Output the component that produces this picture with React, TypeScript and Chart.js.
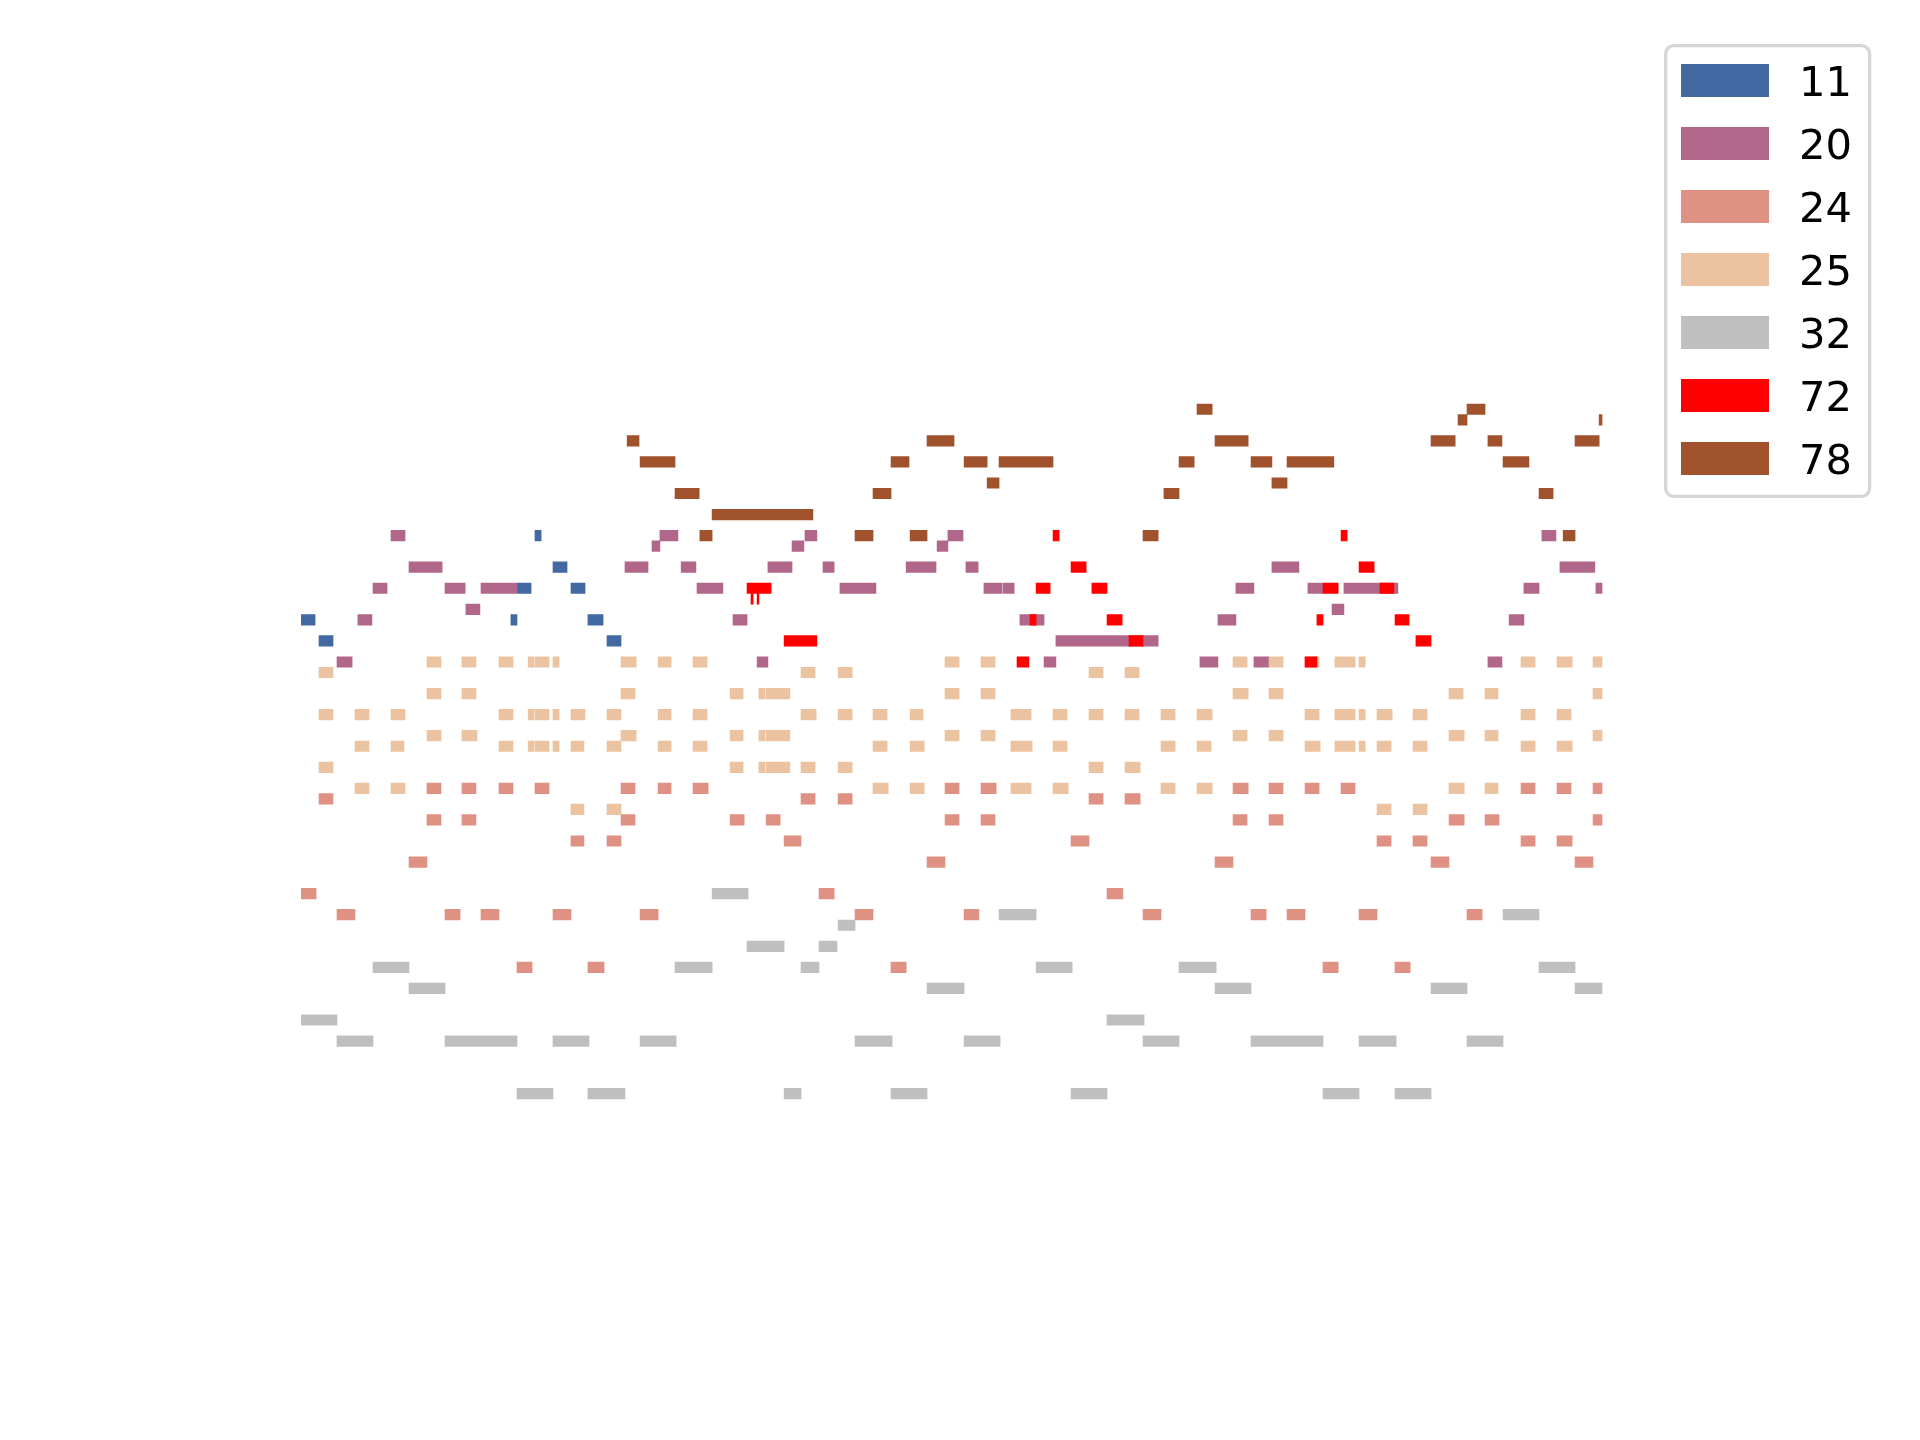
import React, { useEffect, useRef } from "react";
import { Chart, registerables } from "chart.js";

Chart.register(...registerables);

// Each note: [pitch (MIDI), start (beats), end (beats)]
type Note = [number, number, number];

const programs = ["11", "20", "24", "25", "32", "72", "78"];
const colors = ["#4269a1", "#b16789", "#df9283", "#ebc3a0", "#bfbfbf", "#ff0000", "#a0522d"];

const notes11: Note[] = [
  [84, 6.5, 6.67],
  [81, 7.0, 7.39],
  [79, 6.0, 6.39], [79, 7.5, 7.89],
  [76, 0.0, 0.39], [76, 5.83, 6.0], [76, 7.97, 8.39],
  [74, 0.5, 0.89], [74, 8.5, 8.89],
];

const notes20: Note[] = [
  [84, 2.5, 2.89], [84, 9.97, 10.47], [84, 14.0, 14.33], [84, 17.97, 18.39], [84, 34.47, 34.86],
  [83, 9.75, 9.97], [83, 13.64, 13.97], [83, 17.67, 17.97],
  [81, 3.0, 3.92], [81, 9.0, 9.64], [81, 10.56, 10.97], [81, 12.97, 13.64], [81, 14.5, 14.81],
  [81, 16.81, 17.64], [81, 18.47, 18.81], [81, 26.97, 27.72], [81, 34.97, 35.94],
  [79, 2.0, 2.39], [79, 4.0, 4.56], [79, 5.0, 6.0], [79, 11.0, 11.72], [79, 14.97, 15.97],
  [79, 18.97, 19.47], [79, 19.5, 19.81], [79, 25.97, 26.47], [79, 27.97, 28.39], [79, 28.97, 30.47],
  [79, 33.97, 34.39], [79, 35.97, 36.14],
  [77, 4.58, 4.97], [77, 28.64, 28.97],
  [76, 1.58, 1.97], [76, 12.0, 12.39], [76, 19.97, 20.64], [76, 25.47, 25.97], [76, 33.56, 33.97],
  [74, 20.97, 23.81],
  [72, 1.0, 1.42], [72, 12.67, 12.97], [72, 20.64, 20.97], [72, 24.97, 25.47], [72, 26.47, 26.89], [72, 32.97, 33.36],
];

const notes24: Note[] = [
  [60, 3.5, 3.89], [60, 4.47, 4.86], [60, 5.5, 5.89], [60, 6.5, 6.89], [60, 8.89, 9.28], [60, 9.92, 10.28],
  [60, 10.89, 11.31], [60, 17.89, 18.28], [60, 18.89, 19.31], [60, 25.89, 26.31], [60, 26.89, 27.28],
  [60, 27.89, 28.28], [60, 28.89, 29.28], [60, 33.89, 34.28], [60, 34.89, 35.28], [60, 35.89, 36.14],
  [59, 0.5, 0.89], [59, 13.89, 14.28], [59, 14.92, 15.31], [59, 21.89, 22.28], [59, 22.89, 23.31],
  [57, 3.5, 3.89], [57, 4.47, 4.86], [57, 8.89, 9.28], [57, 11.92, 12.31], [57, 12.92, 13.31],
  [57, 17.89, 18.28], [57, 18.89, 19.28], [57, 25.89, 26.28], [57, 26.89, 27.28], [57, 31.89, 32.31],
  [57, 32.89, 33.28], [57, 35.89, 36.14],
  [55, 7.5, 7.86], [55, 8.5, 8.89], [55, 13.42, 13.89], [55, 21.39, 21.89], [55, 29.89, 30.28],
  [55, 30.89, 31.28], [55, 33.89, 34.28], [55, 34.89, 35.31],
  [53, 3.0, 3.5], [53, 17.39, 17.89], [53, 25.39, 25.89], [53, 31.39, 31.89], [53, 35.39, 35.89],
  [50, 0.0, 0.42], [50, 14.39, 14.81], [50, 22.39, 22.83],
  [48, 1.0, 1.5], [48, 4.0, 4.42], [48, 5.0, 5.5], [48, 7.0, 7.5], [48, 9.42, 9.92], [48, 15.39, 15.89],
  [48, 18.42, 18.83], [48, 23.39, 23.89], [48, 26.39, 26.81], [48, 27.39, 27.89], [48, 29.39, 29.89],
  [48, 32.39, 32.81],
  [43, 6.0, 6.42], [43, 7.97, 8.42], [43, 16.39, 16.81], [43, 28.39, 28.81], [43, 30.39, 30.81],
];

const notes25: Note[] = [
  [72, 3.5, 3.89], [72, 4.47, 4.86], [72, 5.5, 5.89], [72, 6.31, 6.47], [72, 6.5, 6.89], [72, 7.0, 7.17],
  [72, 8.89, 9.31], [72, 9.92, 10.28], [72, 10.89, 11.28], [72, 17.89, 18.28], [72, 18.89, 19.28],
  [72, 25.89, 26.28], [72, 26.89, 27.28], [72, 27.89, 28.28], [72, 28.72, 29.28], [72, 29.39, 29.56],
  [72, 33.89, 34.28], [72, 34.89, 35.31], [72, 35.89, 36.14],
  [71, 0.5, 0.89], [71, 13.89, 14.28], [71, 14.92, 15.31], [71, 21.89, 22.28], [71, 22.89, 23.28],
  [69, 3.5, 3.89], [69, 4.47, 4.86], [69, 8.89, 9.28], [69, 11.92, 12.28], [69, 12.72, 12.89],
  [69, 12.92, 13.58], [69, 17.89, 18.28], [69, 18.89, 19.28], [69, 25.89, 26.31], [69, 26.89, 27.28],
  [69, 31.89, 32.28], [69, 32.89, 33.25], [69, 35.89, 36.14],
  [67, 0.5, 0.89], [67, 1.5, 1.89], [67, 2.5, 2.89], [67, 5.5, 5.89], [67, 6.31, 6.47], [67, 6.5, 6.89],
  [67, 7.0, 7.17], [67, 7.5, 7.89], [67, 8.5, 8.89], [67, 9.92, 10.28], [67, 10.89, 11.28],
  [67, 13.89, 14.31], [67, 14.92, 15.31], [67, 15.89, 16.28], [67, 16.92, 17.28], [67, 19.72, 20.28],
  [67, 20.89, 21.28], [67, 21.89, 22.28], [67, 22.89, 23.28], [67, 23.89, 24.28], [67, 24.89, 25.31],
  [67, 27.89, 28.28], [67, 28.72, 29.28], [67, 29.39, 29.56], [67, 29.89, 30.31], [67, 30.89, 31.28],
  [67, 33.89, 34.28], [67, 34.89, 35.28],
  [65, 3.5, 3.89], [65, 4.47, 4.89], [65, 8.89, 9.31], [65, 11.92, 12.28], [65, 12.72, 12.89],
  [65, 12.92, 13.58], [65, 17.89, 18.28], [65, 18.89, 19.28], [65, 25.89, 26.28], [65, 26.89, 27.28],
  [65, 31.89, 32.31], [65, 32.89, 33.25], [65, 35.89, 36.14],
  [64, 1.5, 1.89], [64, 2.5, 2.86], [64, 5.5, 5.89], [64, 6.31, 6.47], [64, 6.5, 6.89], [64, 7.0, 7.17],
  [64, 7.5, 7.86], [64, 8.5, 8.89], [64, 9.92, 10.28], [64, 10.89, 11.28], [64, 15.89, 16.28],
  [64, 16.92, 17.31], [64, 19.72, 20.31], [64, 20.89, 21.28], [64, 23.89, 24.28], [64, 24.89, 25.28],
  [64, 27.89, 28.31], [64, 28.72, 29.28], [64, 29.39, 29.56], [64, 29.89, 30.28], [64, 30.89, 31.28],
  [64, 33.89, 34.28], [64, 34.89, 35.31],
  [62, 0.5, 0.89], [62, 11.92, 12.28], [62, 12.72, 12.89], [62, 12.92, 13.58], [62, 13.89, 14.28],
  [62, 14.92, 15.31], [62, 21.89, 22.28], [62, 22.89, 23.31],
  [60, 1.5, 1.89], [60, 2.5, 2.89], [60, 15.89, 16.31], [60, 16.92, 17.31], [60, 19.72, 20.28],
  [60, 20.89, 21.31], [60, 23.89, 24.28], [60, 24.89, 25.31], [60, 31.89, 32.31], [60, 32.89, 33.25],
  [58, 7.5, 7.86], [58, 8.5, 8.89], [58, 29.89, 30.28], [58, 30.89, 31.28],
];

const notes32: Note[] = [
  [50, 11.42, 12.42],
  [48, 19.39, 20.42], [48, 33.39, 34.39],
  [47, 14.92, 15.39],
  [45, 12.39, 13.42], [45, 14.39, 14.89],
  [43, 2.0, 3.0], [43, 10.39, 11.42], [43, 13.89, 14.39], [43, 20.42, 21.42], [43, 24.39, 25.42], [43, 34.39, 35.39],
  [41, 3.0, 4.0], [41, 17.39, 18.42], [41, 25.39, 26.39], [41, 31.39, 32.39], [41, 35.39, 36.14],
  [38, 0.0, 1.0], [38, 22.39, 23.42],
  [36, 1.0, 2.0], [36, 4.0, 6.0], [36, 7.0, 8.0], [36, 9.42, 10.42], [36, 15.39, 16.42], [36, 18.42, 19.42],
  [36, 23.39, 24.39], [36, 26.39, 28.39], [36, 29.39, 30.42], [36, 32.39, 33.39],
  [31, 6.0, 7.0], [31, 7.97, 9.0], [31, 13.42, 13.89], [31, 16.39, 17.39], [31, 21.39, 22.39],
  [31, 28.39, 29.39], [31, 30.39, 31.39],
];

const notes72: Note[] = [
  [84, 20.89, 21.06], [84, 28.89, 29.06],
  [81, 21.39, 21.81], [81, 29.39, 29.81],
  [79, 12.39, 13.06], [79, 20.42, 20.81], [79, 21.97, 22.39], [79, 28.39, 28.81], [79, 29.97, 30.36],
  [78, 12.5, 12.56], [78, 12.67, 12.72],
  [76, 20.25, 20.42], [76, 22.39, 22.81], [76, 28.22, 28.39], [76, 30.39, 30.78],
  [74, 13.42, 14.33], [74, 23.0, 23.39], [74, 30.97, 31.39],
  [72, 19.89, 20.22], [72, 27.89, 28.22],
];

const notes78: Note[] = [
  [96, 24.89, 25.31], [96, 32.39, 32.89],
  [95, 32.14, 32.39], [95, 36.06, 36.14],
  [93, 9.06, 9.39], [93, 17.39, 18.14], [93, 25.39, 26.31], [93, 31.39, 32.06], [93, 32.97, 33.36], [93, 35.39, 36.06],
  [91, 9.42, 10.39], [91, 16.39, 16.89], [91, 18.42, 19.06], [91, 19.39, 20.89], [91, 24.39, 24.81],
  [91, 26.39, 26.97], [91, 27.39, 28.69], [91, 33.39, 34.11],
  [89, 19.06, 19.39], [89, 26.97, 27.39],
  [88, 10.39, 11.06], [88, 15.89, 16.39], [88, 23.97, 24.39], [88, 34.39, 34.78],
  [86, 11.42, 14.22],
  [84, 11.08, 11.42], [84, 15.39, 15.89], [84, 16.92, 17.39], [84, 23.39, 23.81], [84, 35.06, 35.39],
];

const seriesNotes: Note[][] = [notes11, notes20, notes24, notes25, notes32, notes72, notes78];

const legendPlugin = {
  id: "rollLegend",
  afterDraw(chart: any) {
    const ctx: CanvasRenderingContext2D = chart.ctx;
    ctx.save();
    ctx.beginPath();
    (ctx as any).roundRect(1665.7, 45.7, 203.9, 450.6, 8);
    ctx.fillStyle = "rgba(255,255,255,0.8)";
    ctx.fill();
    ctx.lineWidth = 3.33;
    ctx.strokeStyle = "#d6d6d6";
    ctx.stroke();
    ctx.font = "41.67px 'DejaVu Sans'";
    ctx.textBaseline = "alphabetic";
    ctx.textAlign = "left";
    chart.data.datasets.forEach((ds: any, i: number) => {
      const top = 64 + 63 * i;
      ctx.fillStyle = ds.backgroundColor;
      ctx.fillRect(1681, top, 88, 33);
      ctx.fillStyle = "#000000";
      ctx.fillText(ds.label, 1799, top + 32);
    });
    ctx.restore();
  },
};

export default function App() {
  const ref = useRef<HTMLCanvasElement>(null);
  useEffect(() => {
    const n = seriesNotes.length;
    const chart = new Chart(ref.current as HTMLCanvasElement, {
      type: "bar",
      data: {
        datasets: seriesNotes.map((notes, i) => ({
          label: programs[i],
          data: notes.map(([p, s, e]) => ({ x: [s, e], y: p })),
          backgroundColor: colors[i],
          borderWidth: 0,
          barThickness: 10.53,
          grouped: false,
          order: n - i,
        })) as any,
      },
      options: {
        indexAxis: "y",
        animation: false,
        responsive: false,
        devicePixelRatio: 1,
        events: [],
        layout: { padding: { left: 301, right: 317, top: 398.74, bottom: 335.76 } },
        plugins: { legend: { display: false }, tooltip: { enabled: false } },
        scales: {
          x: { type: "linear", min: 0, max: 36.1667, display: false, bounds: "data", offset: false },
          y: { type: "linear", min: 30, max: 97, display: false, bounds: "data", offset: false },
        },
      } as any,
      plugins: [legendPlugin],
    });
    return () => chart.destroy();
  }, []);
  return (
    <div style={{ position: "absolute", left: 0, top: 0, width: 1920, height: 1440, background: "#ffffff" }}>
      <canvas ref={ref} width={1920} height={1440} style={{ display: "block" }} />
    </div>
  );
}
